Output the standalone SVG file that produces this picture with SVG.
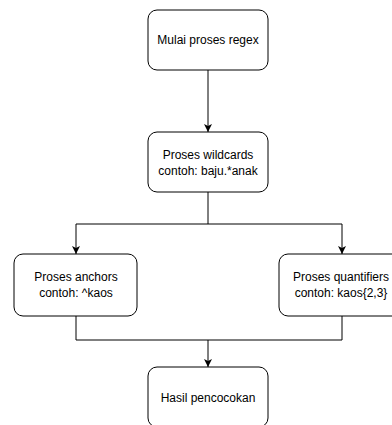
<svg xmlns="http://www.w3.org/2000/svg" width="392" height="425" viewBox="0 0 392 425">
<style>
.box{fill:#fff;stroke:#000;stroke-width:1}
.lbl{font-family:"Liberation Sans",Arial,sans-serif;font-size:12px;fill:#000;text-anchor:middle}
.edge{fill:none;stroke:#000;stroke-width:1}
</style>
<defs>
<marker id="arr" viewBox="0 0 10 10" refX="10" refY="5" markerWidth="8" markerHeight="8" markerUnits="userSpaceOnUse" orient="auto">
<path d="M0,0 L10,5 L0,10 L2.5,5 Z" fill="#000"/>
</marker>
</defs>
<rect width="392" height="425" fill="#fff"/>
<g id="edges">
<path class="edge" d="M208,70 V132" marker-end="url(#arr)"/>
<path class="edge" d="M208,192 V224 H76 V254" marker-end="url(#arr)"/>
<path class="edge" d="M208,224 H342 V254" marker-end="url(#arr)"/>
<path class="edge" d="M76,316 V340 H342 V316"/>
<path class="edge" d="M208,340 V367" marker-end="url(#arr)"/>
</g>
<g id="n1">
<rect class="box" x="148" y="10" width="120" height="60" rx="9"/>
<text class="lbl" x="208" y="44">Mulai proses regex</text>
</g>
<g id="n2">
<rect class="box" x="148" y="132" width="120" height="60" rx="9"/>
<text class="lbl" x="208" y="159">Proses wildcards</text>
<text class="lbl" x="208" y="175">contoh: baju.*anak</text>
</g>
<g id="n3">
<rect class="box" x="14" y="254" width="123" height="62" rx="9"/>
<text class="lbl" x="76" y="281">Proses anchors</text>
<text class="lbl" x="76" y="297">contoh: ^kaos</text>
</g>
<g id="n4">
<rect class="box" x="279" y="254" width="126" height="62" rx="9"/>
<text class="lbl" x="341" y="281">Proses quantifiers</text>
<text class="lbl" x="341" y="297">contoh: kaos{2,3}</text>
</g>
<g id="n5">
<rect class="box" x="148" y="367" width="120" height="60" rx="9"/>
<text class="lbl" x="208" y="402">Hasil pencocokan</text>
</g>
</svg>
